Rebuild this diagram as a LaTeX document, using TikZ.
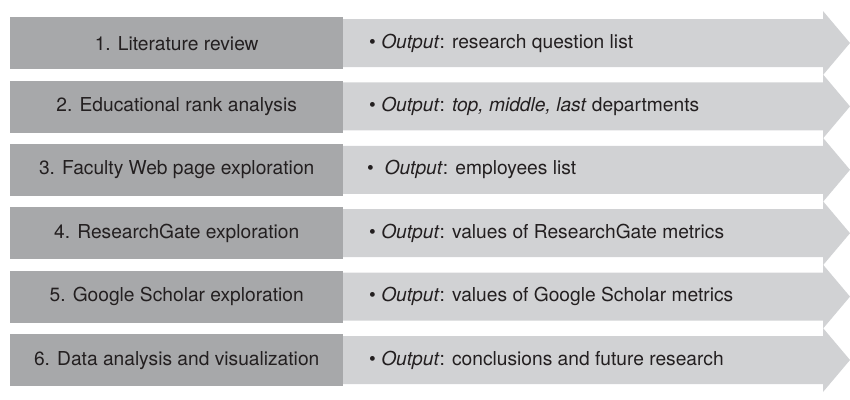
\documentclass[tikz,border=0pt]{standalone}
\usepackage{fontspec}
\setmainfont{TeX Gyre Heros}
\begin{document}
\begin{tikzpicture}[x=1pt,y=-1pt,
  stepbox/.style={fill=stepgray,draw=none,anchor=north west,minimum width=333pt,minimum height=52pt,inner sep=0pt,text=ink,font=\fontsize{19.2}{21}\selectfont},
  outtext/.style={anchor=west,inner sep=0pt,text=ink,font=\fontsize{19.2}{21}\selectfont},
  arrowfill/.style={fill=arrowgray,draw=none}]
\definecolor{stepgray}{HTML}{A7A8AA}
\definecolor{arrowgray}{HTML}{D1D2D4}
\definecolor{ink}{HTML}{231F20}
\useasboundingbox (0,0) rectangle (850,399);
\foreach \i/\step/\out/\dx in {
  1/{1. Literature review}/{\textit{Output}: research question list}/0,
  2/{2. Educational rank analysis}/{\textit{Output}: \textit{top, middle, last} departments}/0,
  3/{3. Faculty Web page exploration}/{\ \textit{Output}: employees list}/-2,
  4/{4. ResearchGate exploration}/{\textit{Output}: values of ResearchGate metrics}/0,
  5/{5. Google Scholar exploration}/{\textit{Output}: values of Google Scholar metrics}/0,
  6/{6. Data analysis and visualization}/{\textit{Output}: conclusions and future research}/0}{
  \pgfmathsetmacro{\t}{17+63.4*(\i-1)}
  % output arrow behind the step box
  \fill[arrowfill] (343,\t+2) -- (823,\t+2) -- (823,\t-6) -- (850,\t+26)
    -- (823,\t+58) -- (823,\t+50) -- (343,\t+50) -- cycle;
  \node[stepbox] (step\i) at (10,\t) {\step};
  \node[outtext] (out\i) at (369+\dx,\t+26) {\textbullet\ \out};
}
\end{tikzpicture}
\end{document}
